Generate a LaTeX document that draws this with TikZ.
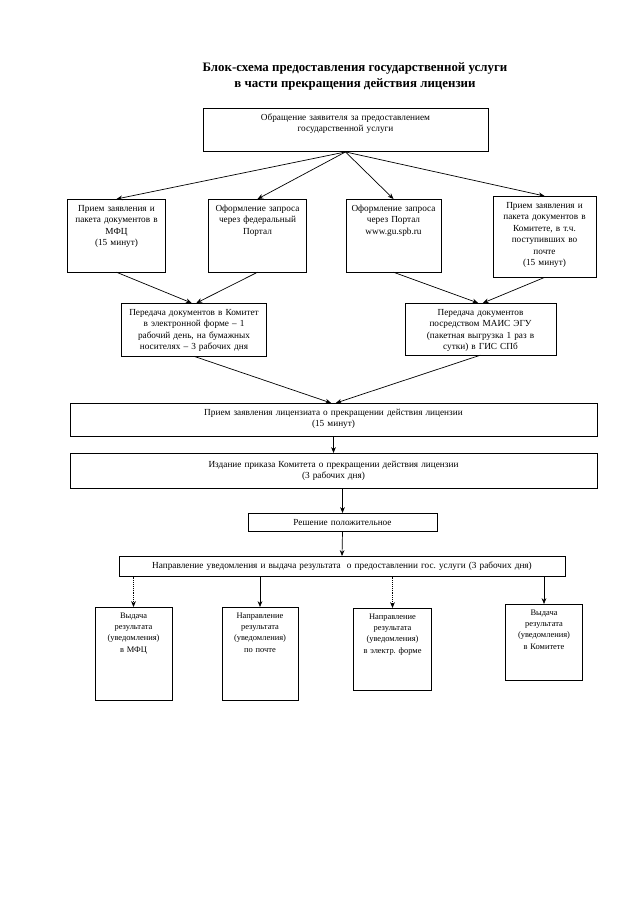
\documentclass[tikz,border=0pt]{standalone}
\usepackage{fontspec}
\setmainfont{Liberation Serif}
\frenchspacing
\usetikzlibrary{arrows.meta,positioning}

\begin{document}
\begin{tikzpicture}[x=0.03cm, y=-0.03cm,
        blk/.style={draw, line width=0.5pt, anchor=north, align=center,
                    inner xsep=2pt, inner ysep=3pt, text height=7.5pt,
                    font=\fontsize{7.9}{9.7}\selectfont},
        res/.style={blk, inner ysep=2pt, font=\fontsize{7.2}{9.6}\selectfont},
        arrow/.style={-{Stealth[length=5pt,width=4pt]}, line width=0.6pt},
        link/.style={arrow, densely dotted}
    ]
    \useasboundingbox (0,0) rectangle (640,905);

    % ---- Заголовок ----
    \node[align=center, font=\fontsize{11}{13.6}\selectfont\bfseries] (title) at (355,76)
        {Блок-схема предоставления государственной услуги\\в части прекращения действия лицензии};

    % ---- Обращение заявителя ----
    \node[blk, text width=239pt, text depth=23.5pt] (req) at (345.5,108)
        {Обращение заявителя за предоставлением\\государственной услуги};

    % ---- Способы подачи ----
    \node[blk, text width=80pt, text depth=48.5pt] (mfc) at (116.5,199)
        {Прием заявления и\\пакета документов в\\МФЦ\\(15 минут)};
    \node[blk, text width=80pt, text depth=48.5pt] (fed) at (257.5,199)
        {Оформление запроса\\через федеральный\\Портал};
    \node[blk, text width=77pt, text depth=48.5pt] (spb) at (393.5,199)
        {Оформление запроса\\через Портал\\www.gu.spb.ru};
    \node[blk, text width=84pt, text depth=55.5pt] (kom) at (544.5,196)
        {Прием заявления и\\пакета документов в\\Комитете, в т.ч.\\поступивших во\\почте\\(15 минут)};

    % ---- Передача документов ----
    \node[blk, text width=120pt, text depth=31.5pt] (tr1) at (194,303)
        {Передача документов в Комитет\\в электронной форме – 1\\рабочий день, на бумажных\\носителях – 3 рабочих дня};
    \node[blk, text width=125pt, text depth=30.5pt] (tr2) at (480.5,303)
        {Передача документов\\посредством МАИС ЭГУ\\(пакетная выгрузка 1 раз в\\сутки) в ГИС СПб};

    % ---- Рассмотрение ----
    \node[blk, text width=446pt, text depth=14.5pt] (rcv) at (333.5,403)
        {Прием заявления лицензиата о прекращении действия лицензии\\(15 минут)};
    \node[blk, text width=446pt, text depth=14.5pt, text height=9pt] (ord) at (333.5,453)
        {Издание приказа Комитета о прекращении действия лицензии\\(3 рабочих дня)};
    \node[blk, text width=157pt, text depth=1.5pt] (dec) at (342.5,513)
        {Решение положительное};
    \node[blk, text width=377pt, text depth=3.5pt] (ntf) at (342,556)
        {Направление уведомления и выдача результата\ \ о предоставлении гос. услуги (3 рабочих дня)};

    % ---- Результат ----
    \node[res, text width=62pt, text depth=67.5pt] (r1) at (133.5,607)
        {Выдача\\результата\\(уведомления)\\в МФЦ};
    \node[res, text width=61pt, text depth=67.5pt] (r2) at (260,607)
        {Направление\\результата\\(уведомления)\\по почте};
    \node[res, text width=63pt, text depth=58.5pt] (r3) at (392.5,608)
        {Направление\\результата\\(уведомления)\\в электр. форме};
    \node[res, text width=62pt, text depth=53.5pt] (r4) at (544,604)
        {Выдача\\результата\\(уведомления)\\в Комитете};

    % Стрелки от обращения
    \draw[arrow] (req.south) -- (mfc.north);
    \draw[arrow] (req.south) -- (fed.north);
    \draw[arrow] (req.south) -- (spb.north);
    \draw[arrow] (req.south) -- (kom.north);

    % Передача документов
    \draw[arrow] (mfc.south) -- ([xshift=-2pt]tr1.north);
    \draw[arrow] (fed.south) -- ([xshift=2pt]tr1.north);
    \draw[arrow] (spb.south) -- ([xshift=-2pt]tr2.north);
    \draw[arrow] (kom.south) -- ([xshift=2pt]tr2.north);

    % Прием и решение
    \draw[arrow] (tr1.south) -- ([xshift=-2pt]rcv.north);
    \draw[arrow] (tr2.south) -- ([xshift=2pt]rcv.north);
    \draw[arrow] (rcv.south) -- (ord.north);
    \draw[arrow] (dec.north |- ord.south) -- (dec.north);
    \draw[arrow] (dec.south) -- (ntf.north);

    % Выдача результата
    \foreach \r/\s in {r1/link, r2/arrow, r3/link, r4/arrow}
        \draw[\s] (ntf.south -| \r.north) -- (\r.north);

\end{tikzpicture}
\end{document}
